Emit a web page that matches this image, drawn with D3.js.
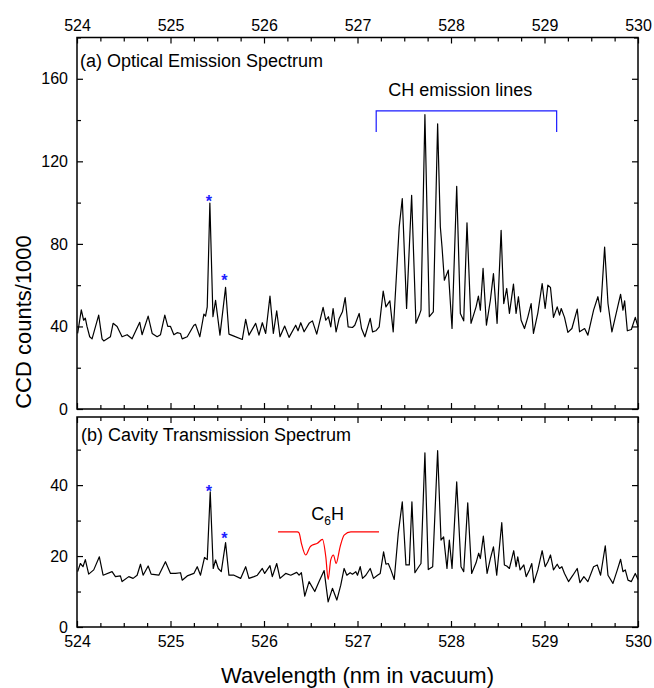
<html>
  <head>
    <title>Optical emission vs cavity transmission</title>
    <style type="text/css">
      body { margin: 0; background: #fff; }
      .chart text { font-family: "Liberation Sans", Arial, sans-serif; fill: #000; }
    </style>
    <script src="https://d3js.org/d3.v7.min.js"></script>
  </head>
  <body>
    <svg class="chart" width="654" height="688"></svg>
    <script>

// (a) optical emission spectrum, [wavelength nm, CCD counts/1000]
var emission = [
  [524.007,36.6],[524.046,48],[524.071,43],[524.089,44],[524.107,40],[524.136,35],[524.161,34],
  [524.232,45.5],[524.268,34],[524.286,33],[524.357,35],[524.386,41.5],[524.429,40],[524.482,35],
  [524.536,36],[524.589,34],[524.671,42],[524.696,36],[524.761,45],[524.804,36.6],[524.857,35],
  [524.893,36],[524.939,45.5],[524.971,40],[525.0,40],[525.036,36],[525.071,37],[525.107,36.6],
  [525.125,34],[525.179,35],[525.25,40.6],[525.268,41],[525.314,35],[525.357,46],[525.375,45],
  [525.393,49.5],[525.421,99.8],[525.454,44.7],[525.482,52.7],[525.529,35.8],[525.589,58.9],
  [525.625,36.3],[525.679,35.3],[525.768,33.7],[525.804,43.4],[525.839,35.8],[525.911,41.5],
  [525.946,35.8],[525.982,41.8],[526.018,36.6],[526.064,54.7],[526.1,36.6],[526.136,47.6],
  [526.171,35],[526.221,40.2],[526.268,34.7],[526.339,40.6],[526.364,37.9],[526.393,41.8],
  [526.429,37.4],[526.482,41.5],[526.518,42.7],[526.564,36.3],[526.632,49.2],[526.661,43],
  [526.689,44.7],[526.714,39.8],[526.739,48.7],[526.771,37.4],[526.804,43.9],[526.839,47.1],
  [526.868,54],[526.9,39.8],[526.946,39.5],[526.971,40.6],[527.018,46.3],[527.043,39],[527.079,35],
  [527.136,43.9],[527.161,37.4],[527.196,37.9],[527.232,39.8],[527.275,57.1],[527.304,49.5],
  [527.346,52.4],[527.382,37.4],[527.446,88.2],[527.479,101.9],[527.525,48.7],[527.579,103.5],
  [527.625,41.5],[527.661,45.5],[527.679,47.9],[527.721,142.6],[527.768,44.7],[527.811,47.1],
  [527.857,138.2],[527.886,88.2],[527.904,78.5],[527.929,62.4],[527.971,67.3],[528.011,39],
  [528.061,107.9],[528.1,46.3],[528.136,42.7],[528.171,90.2],[528.214,41.5],[528.268,49.5],
  [528.293,54.7],[528.314,47.9],[528.343,68.1],[528.379,40.6],[528.421,52.7],[528.454,65.6],
  [528.493,41.5],[528.536,86.6],[528.564,51.1],[528.596,58.4],[528.625,46.3],[528.668,60.5],
  [528.696,46.3],[528.721,54.4],[528.75,43],[528.786,39],[528.821,44.4],[528.857,51.1],
  [528.882,36.6],[528.929,46.6],[528.975,60.8],[529.007,48.7],[529.036,60],[529.064,58.9],
  [529.096,44.4],[529.136,49.5],[529.161,45.5],[529.179,48.7],[529.214,44.4],[529.25,37.1],
  [529.293,39],[529.35,48.4],[529.375,37.4],[529.429,39],[529.464,35.8],[529.525,47.9],
  [529.571,54.4],[529.6,47.1],[529.643,78.5],[529.679,51.1],[529.721,37.4],[529.779,48.7],
  [529.814,55.6],[529.839,47.9],[529.857,52.4],[529.886,37.9],[529.929,38.5],[529.971,44.4],
  [530.0,39.8]
];

// (b) cavity transmission spectrum
var transmission = [
  [524.007,15.6],[524.036,17.9],[524.064,17],[524.089,19],[524.125,14.9],[524.179,16.1],
  [524.239,19.8],[524.279,14.6],[524.375,15.6],[524.411,14.2],[524.464,14.4],[524.482,12.8],
  [524.554,14.2],[524.6,13.7],[524.643,14.6],[524.679,17.7],[524.707,14.6],[524.761,17.2],
  [524.793,14.9],[524.875,14.6],[524.946,18.4],[525.0,15.1],[525.054,15.1],[525.107,15.3],
  [525.125,13.2],[525.179,14.4],[525.25,15.1],[525.286,17],[525.321,14.6],[525.364,19.6],
  [525.393,19],[525.425,38.1],[525.457,16.5],[525.482,18.9],[525.511,16.5],[525.543,15.6],
  [525.589,23.8],[525.625,14.6],[525.679,14.6],[525.75,13.7],[525.804,17],[525.839,13.7],
  [525.893,14.2],[525.929,14.6],[525.982,16.5],[526.007,15.1],[526.064,17.3],[526.089,14.2],
  [526.136,17.9],[526.171,13.7],[526.232,15.1],[526.286,14.6],[526.35,15.4],[526.375,14.6],
  [526.4,15.3],[526.436,8.7],[526.482,12.8],[526.543,10],[526.589,12.8],[526.643,15.9],
  [526.686,7.1],[526.732,10.9],[526.779,7.6],[526.821,11.8],[526.857,16.5],[526.886,14.6],
  [526.921,15.3],[526.946,14.9],[526.982,15.6],[527.0,14.6],[527.029,17],[527.054,13.7],
  [527.089,14.6],[527.136,16.5],[527.171,13.7],[527.214,14.6],[527.243,15.1],[527.279,21.2],
  [527.304,17.7],[527.329,17.9],[527.357,16.1],[527.393,13.4],[527.436,26.4],[527.479,35.3],
  [527.518,17.5],[527.554,17.5],[527.582,35.3],[527.614,15.3],[527.643,16.5],[527.679,17.9],
  [527.721,49.1],[527.757,16.2],[527.804,17],[527.857,49.7],[527.893,24.5],[527.921,25.4],
  [527.957,16.5],[527.982,24.5],[528.011,16.5],[528.061,40.9],[528.107,17],[528.136,15.6],
  [528.179,35],[528.221,15.1],[528.268,18.1],[528.296,20.8],[528.314,19.3],[528.346,25.6],
  [528.386,15.1],[528.421,19.3],[528.454,22.6],[528.489,14.6],[528.543,29.4],[528.571,17.5],
  [528.596,17.2],[528.625,16.5],[528.671,21.5],[528.696,17],[528.714,19.8],[528.739,16.1],
  [528.779,17.5],[528.804,14.2],[528.839,16.1],[528.864,17.9],[528.886,12.5],[528.929,16.1],
  [528.975,21.5],[529.007,17],[529.036,18.4],[529.064,20.3],[529.096,16.1],[529.136,17.7],
  [529.161,16.5],[529.186,17],[529.214,15.1],[529.257,12.8],[529.304,14.6],[529.35,16.5],
  [529.379,12.5],[529.421,14.2],[529.464,12.8],[529.525,17],[529.564,17.5],[529.6,14.6],
  [529.65,22.9],[529.679,14.6],[529.732,12.3],[529.779,16.1],[529.814,19.1],[529.839,15.6],
  [529.864,16.1],[529.893,13.2],[529.929,12.8],[529.971,15.1],[530.0,13.4]
];

// C6H reference band (red, offset)
var c6h = [
  [526.15,26.8],[526.357,26.8],[526.375,26.5],[526.4,23.6],[526.446,20.3],[526.493,22.6],
  [526.518,23.1],[526.571,23.6],[526.625,24.7],[526.661,19.8],[526.686,13.4],[526.714,18.9],
  [526.743,20.3],[526.771,17.9],[526.814,22.6],[526.857,25.9],[526.929,26.8],[527.23,26.8]
];

// blue asterisks above the two strong lines
var starsA = [[525.41,102.4],[525.575,63.8]];
var starsB = [[525.41,39.3],[525.575,25.9]];

// "CH emission lines" bracket: from, to, top, bottom (counts/1000)
var chBracket = [527.2, 529.13, 144.4, 134.2];

var xTicks = [524, 525, 526, 527, 528, 529, 530];
var yTicksA = [0, 40, 80, 120, 160];
var yMinorA = [20, 60, 100, 140, 180];
var yTicksB = [0, 20, 40];
var yMinorB = [10, 30, 50];

var left = 77, right = 638;
var font = '"Liberation Sans", Arial, sans-serif';

var svg = d3.select(".chart");

var x = d3.scaleLinear().domain([524, 530]).range([left, right]);
var xMinor = d3.range(524, 530.01, 0.25).filter(function(d) { return Math.abs(d - Math.round(d)) > 0.01; });

var yA = d3.scaleLinear().domain([0, 180]).range([409, 37.5]);
var yB = d3.scaleLinear().domain([0, 59.2]).range([627, 417]);

function styleAxis(g) {
  g.select(".domain").remove();
  g.selectAll("line").attr("stroke", "#000").attr("stroke-width", 1.2);
  g.selectAll("text").attr("font-size", 16).attr("font-family", font).attr("fill", "#000");
}

function panel(y, major, minor, labelTop, labelBottom) {
  var top = y.range()[1], bottom = y.range()[0];

  svg.append("g").attr("transform", "translate(0," + top + ")")
    .call(d3.axisTop(x).tickValues(xTicks).tickSize(-6).tickSizeOuter(0).tickPadding(7)
      .tickFormat(labelTop ? d3.format("d") : ""))
    .call(styleAxis);
  svg.append("g").attr("transform", "translate(0," + top + ")")
    .call(d3.axisTop(x).tickValues(xMinor).tickSize(-4).tickSizeOuter(0).tickFormat(""))
    .call(styleAxis);
  svg.append("g").attr("transform", "translate(0," + bottom + ")")
    .call(d3.axisBottom(x).tickValues(xTicks).tickSize(-6).tickSizeOuter(0).tickPadding(9)
      .tickFormat(labelBottom ? d3.format("d") : ""))
    .call(styleAxis);
  svg.append("g").attr("transform", "translate(0," + bottom + ")")
    .call(d3.axisBottom(x).tickValues(xMinor).tickSize(-4).tickSizeOuter(0).tickFormat(""))
    .call(styleAxis);

  svg.append("g").attr("transform", "translate(" + left + ",0)")
    .call(d3.axisLeft(y).tickValues(major).tickSize(-6).tickSizeOuter(0).tickPadding(9).tickFormat(d3.format("d")))
    .call(styleAxis);
  svg.append("g").attr("transform", "translate(" + left + ",0)")
    .call(d3.axisLeft(y).tickValues(minor).tickSize(-4).tickSizeOuter(0).tickFormat(""))
    .call(styleAxis);
  svg.append("g").attr("transform", "translate(" + right + ",0)")
    .call(d3.axisRight(y).tickValues(major).tickSize(-6).tickSizeOuter(0).tickFormat(""))
    .call(styleAxis);
  svg.append("g").attr("transform", "translate(" + right + ",0)")
    .call(d3.axisRight(y).tickValues(minor).tickSize(-4).tickSizeOuter(0).tickFormat(""))
    .call(styleAxis);

  svg.append("rect")
    .attr("x", left).attr("y", top)
    .attr("width", right - left).attr("height", bottom - top)
    .attr("fill", "none").attr("stroke", "#000").attr("stroke-width", 1.5);
}

panel(yA, yTicksA, yMinorA, true, false);
panel(yB, yTicksB, yMinorB, false, true);

function spectrum(data, y, colour, curve) {
  svg.append("path")
    .datum(data)
    .attr("fill", "none")
    .attr("stroke", colour)
    .attr("stroke-width", 1.2)
    .attr("stroke-linejoin", "round")
    .attr("d", d3.line()
      .curve(curve)
      .x(function(d) { return x(d[0]); })
      .y(function(d) { return y(d[1]); }));
}

spectrum(emission, yA, "#000", d3.curveLinear);
spectrum(transmission, yB, "#000", d3.curveLinear);
spectrum(c6h, yB, "#ff0000", d3.curveMonotoneX);

// asterisks
function stars(data, y) {
  svg.selectAll(null).data(data).enter().append("text")
    .attr("x", function(d) { return x(d[0]); })
    .attr("y", function(d) { return y(d[1]); })
    .attr("dy", 9)
    .attr("text-anchor", "middle")
    .attr("font-size", 16)
    .attr("font-weight", "bold")
    .style("fill", "#2020ff")
    .text("*");
}
stars(starsA, yA);
stars(starsB, yB);

// CH bracket
svg.append("path")
  .attr("fill", "none")
  .attr("stroke", "#1a1aff")
  .attr("stroke-width", 1.2)
  .attr("d", "M" + x(chBracket[0]) + "," + yA(chBracket[3]) +
             "V" + yA(chBracket[2]) +
             "H" + x(chBracket[1]) +
             "V" + yA(chBracket[3]));

svg.append("text")
  .attr("x", x(528.1)).attr("y", yA(151.8))
  .attr("text-anchor", "middle")
  .attr("font-size", 18)
  .text("CH emission lines");

// panel labels
svg.append("text").attr("x", 80).attr("y", 67).attr("font-size", 18)
  .text("(a) Optical Emission Spectrum");
svg.append("text").attr("x", 81).attr("y", 441).attr("font-size", 18)
  .text("(b) Cavity Transmission Spectrum");

// C6H label
var c6 = svg.append("text")
  .attr("x", x(526.68)).attr("y", yB(30.3))
  .attr("text-anchor", "middle")
  .attr("font-size", 18);
c6.append("tspan").text("C");
c6.append("tspan").attr("font-size", 12).attr("dy", 5).text("6");
c6.append("tspan").attr("dy", -5).text("H");

// axis titles
svg.append("text")
  .attr("x", (left + right) / 2).attr("y", 683)
  .attr("text-anchor", "middle")
  .attr("font-size", 22)
  .text("Wavelength (nm in vacuum)");

svg.append("text")
  .attr("transform", "translate(31," + 322 + ") rotate(-90)")
  .attr("text-anchor", "middle")
  .attr("font-size", 22)
  .text("CCD counts/1000");

</script>
  </body>
</html>
